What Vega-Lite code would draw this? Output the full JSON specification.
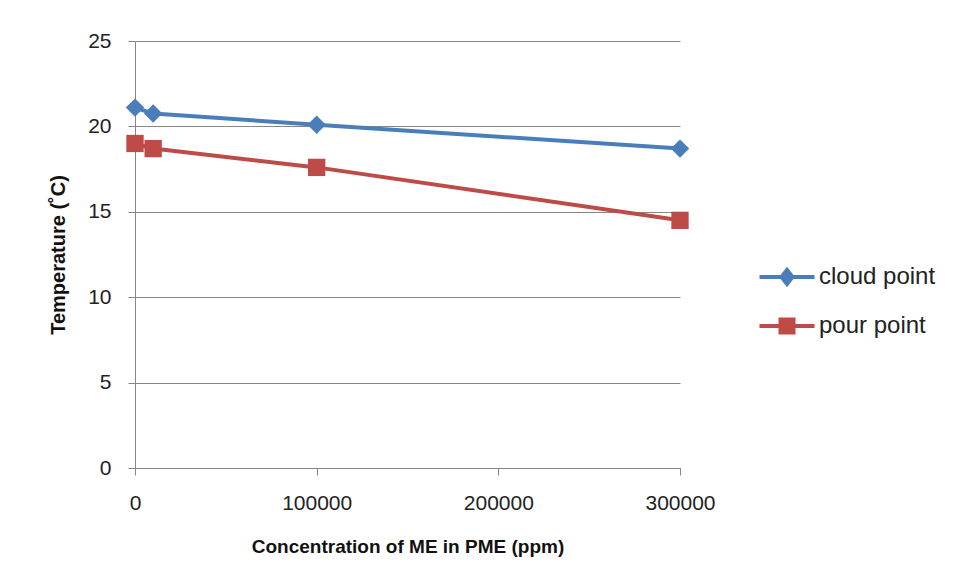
{
  "$schema": "https://vega.github.io/schema/vega-lite/v6.json",
  "width": 545,
  "height": 427,
  "autosize": "none",
  "padding": {"left": 135, "top": 41, "right": 276, "bottom": 119},
  "background": "white",
  "data": {
    "values": [
      {"conc": 0, "temp": 21.1, "series": "cloud point"},
      {"conc": 10000, "temp": 20.75, "series": "cloud point"},
      {"conc": 100000, "temp": 20.1, "series": "cloud point"},
      {"conc": 300000, "temp": 18.7, "series": "cloud point"},
      {"conc": 0, "temp": 19.0, "series": "pour point"},
      {"conc": 10000, "temp": 18.7, "series": "pour point"},
      {"conc": 100000, "temp": 17.6, "series": "pour point"},
      {"conc": 300000, "temp": 14.5, "series": "pour point"}
    ]
  },
  "config": {
    "view": {"stroke": null},
    "font": "Liberation Sans",
    "axis": {
      "labelFont": "Liberation Sans",
      "titleFont": "Liberation Sans",
      "labelColor": "#222222",
      "titleColor": "#111111",
      "domainColor": "#868686",
      "tickColor": "#868686",
      "gridColor": "#868686",
      "gridOpacity": 1,
      "gridWidth": 1,
      "domainWidth": 1,
      "tickWidth": 1,
      "tickSize": 7,
      "labelFontSize": 21,
      "titleFontSize": 19,
      "titleFontWeight": "bold"
    }
  },
  "encoding": {
    "x": {
      "field": "conc",
      "type": "quantitative",
      "scale": {"domain": [0, 300000], "nice": false, "zero": true},
      "axis": {
        "title": "Concentration of ME in PME (ppm)",
        "values": [0, 100000, 200000, 300000],
        "format": "d",
        "grid": false,
        "labelPadding": 17,
        "titlePadding": 24,
        "labelFlush": false
      }
    },
    "y": {
      "field": "temp",
      "type": "quantitative",
      "scale": {"domain": [0, 25], "nice": false},
      "axis": {
        "title": "Temperature (˚C)",
        "values": [0, 5, 10, 15, 20, 25],
        "grid": true,
        "labelPadding": 17,
        "titlePadding": 19,
        "titleFontSize": 20
      }
    }
  },
  "layer": [
    {
      "mark": {"type": "line", "strokeWidth": 4},
      "encoding": {
        "color": {
          "field": "series",
          "type": "nominal",
          "scale": {"domain": ["cloud point", "pour point"], "range": ["#4A7EBB", "#BE4B48"]},
          "legend": {
            "title": null,
            "orient": "none",
            "legendX": 640,
            "legendY": 224,
            "padding": 0,
            "symbolSize": 100,
            "labelFontSize": 24,
            "labelFont": "Liberation Sans",
            "labelColor": "#222222",
            "labelOffset": 20,
            "rowPadding": 19,
            "symbolStrokeWidth": 4,
            "encode": {
              "symbols": {
                "update": {
                  "shape": {"signal": "datum.value === 'cloud point' ? 'M-5.5,0H5.5M0,-1.4L1.1,0L0,1.4L-1.1,0Z' : 'M-5.5,0H5.5M-1.3,-1.3H1.3V1.3H-1.3Z'"},
                  "strokeWidth": {"value": 4},
                  "fill": {"signal": "datum.value === 'cloud point' ? '#4A7EBB' : '#BE4B48'"},
                  "fillOpacity": {"value": 1},
                  "stroke": {"signal": "datum.value === 'cloud point' ? '#4A7EBB' : '#BE4B48'"},
                  "opacity": {"value": 1}
                }
              }
            }
          }
        }
      }
    },
    {
      "transform": [{"filter": "datum.series === 'cloud point'"}],
      "mark": {"type": "point", "shape": "diamond", "filled": true, "opacity": 1, "size": 340, "color": "#4A7EBB"},
      "encoding": {}
    },
    {
      "transform": [{"filter": "datum.series === 'pour point'"}],
      "mark": {"type": "point", "shape": "square", "filled": true, "opacity": 1, "size": 300, "color": "#BE4B48"},
      "encoding": {}
    }
  ]
}
